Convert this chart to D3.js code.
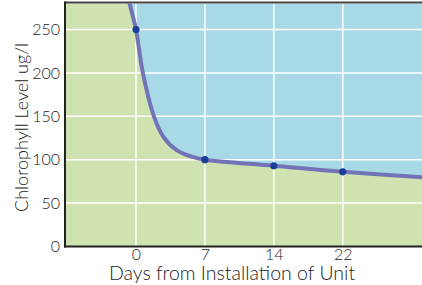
<!DOCTYPE html>
<html>
<head>
<meta charset="utf-8">
<script src="https://cdn.jsdelivr.net/npm/d3@7"></script>
<style>
  body { margin: 0; background: #fff; }
  text { font-family: Lato, "Open Sans", sans-serif; fill: #222; }
</style>
</head>
<body>
<div id="chart"></div>
<script>
const FRAME_WIDTH = 422;
const FRAME_HEIGHT = 285;
const MARGINS = { left: 65, right: 0, top: 3.5, bottom: 38.5 };

// x ticks are evenly spaced categories
const dayLabels = ["0", "7", "14", "22"];
const markerIdx = [0, 1, 2, 3];
const markerVals = [250, 100, 93, 86];

// curve (x in tick index units)
const curveIdx = [-0.2, -0.1, 0, 0.1, 0.26, 0.4, 0.59, 0.81, 1, 2, 3, 4.2];
const curveVals = [330, 283, 250, 200, 150, 126, 111, 103.5, 100, 93, 86, 79.5];

const yTicks = [0, 50, 100, 150, 200, 250];

let svg = d3.select("#chart").append("svg")
  .attr("width", FRAME_WIDTH)
  .attr("height", FRAME_HEIGHT);

let x = d3.scaleLinear().domain([-1.03, 4.15]).range([MARGINS.left, FRAME_WIDTH - MARGINS.right]);
let y = d3.scaleLinear().domain([0, 280]).range([FRAME_HEIGHT - MARGINS.bottom, MARGINS.top]);

let x0 = x.range()[0], x1 = x.range()[1];
let yb = y.range()[0], yt = y.range()[1];

svg.append("clipPath").attr("id", "plot-clip")
  .append("rect")
  .attr("x", x0).attr("y", yt)
  .attr("width", x1 - x0).attr("height", yb - yt);

let plot = svg.append("g").attr("clip-path", "url(#plot-clip)");

// blue background above the curve
plot.append("rect")
  .attr("x", x0).attr("y", yt)
  .attr("width", x1 - x0).attr("height", yb - yt)
  .attr("fill", "#a8d9e6");

let curveData = curveIdx.map((d, i) => [d, curveVals[i]]);
let line = d3.line()
  .x(d => x(d[0]))
  .y(d => y(d[1]))
  .curve(d3.curveCatmullRom.alpha(0.5));

// green area below / left of curve
plot.append("path")
  .attr("d", line(curveData) + "L" + (x1 + 10) + "," + (yb + 10) + "L" + (x0 - 10) + "," + (yb + 10) + "L" + (x0 - 10) + "," + (yt - 50) + "Z")
  .attr("fill", "#cfe3b0");

// grid
plot.selectAll(".hgrid")
  .data(yTicks.slice(1))
  .enter()
  .append("line")
  .attr("x1", x0).attr("x2", x1)
  .attr("y1", d => y(d)).attr("y2", d => y(d))
  .attr("stroke", "#fff")
  .attr("stroke-width", 1.5);

plot.selectAll(".vgrid")
  .data(markerIdx)
  .enter()
  .append("line")
  .attr("x1", d => x(d)).attr("x2", d => x(d))
  .attr("y1", yt).attr("y2", yb)
  .attr("stroke", "#fff")
  .attr("stroke-width", 1.5);

plot.append("path")
  .attr("d", line(curveData))
  .attr("fill", "none")
  .attr("stroke", "#7373b8")
  .attr("stroke-width", 4);

plot.selectAll("circle")
  .data(markerIdx)
  .enter()
  .append("circle")
  .attr("cx", d => x(d))
  .attr("cy", (d, i) => y(markerVals[i]))
  .attr("r", 3.6)
  .attr("fill", "#1b3f98");

// frame lines
svg.append("line")
  .attr("x1", x0).attr("x2", x1).attr("y1", yt - 1).attr("y2", yt - 1)
  .attr("stroke", "#444").attr("stroke-width", 2);
svg.append("line")
  .attr("x1", x0).attr("x2", x0).attr("y1", yt - 2).attr("y2", yb + 1)
  .attr("stroke", "#222").attr("stroke-width", 2);
svg.append("line")
  .attr("x1", x0 - 1).attr("x2", x1).attr("y1", yb).attr("y2", yb)
  .attr("stroke", "#222").attr("stroke-width", 2);

// axes (labels only)
let yAxis = svg.append("g")
  .attr("transform", "translate(" + (x0 - 1) + ",0)")
  .call(d3.axisLeft(y).tickValues(yTicks).tickSize(0).tickPadding(4));
yAxis.select(".domain").remove();
yAxis.selectAll("text").style("font-size", "16px").style("font-weight", 300).attr("fill", "#222");

let xAxis = svg.append("g")
  .attr("transform", "translate(0," + yb + ")")
  .call(d3.axisBottom(x).tickValues(markerIdx).tickFormat((d, i) => dayLabels[i]).tickSize(0).tickPadding(2));
xAxis.select(".domain").remove();
xAxis.selectAll("text").style("font-size", "16px").style("font-weight", 300).attr("fill", "#222");

svg.append("text")
  .attr("x", 232)
  .attr("y", 280)
  .attr("text-anchor", "middle")
  .style("font-size", "19.5px")
  .style("font-weight", 300)
  .text("Days from Installation of Unit");

svg.append("text")
  .attr("transform", "translate(28," + 127.5 + ") rotate(-90)")
  .attr("text-anchor", "middle")
  .style("font-size", "18px")
  .style("font-weight", 300)
  .text("Chlorophyll Level ug/l");
</script>
</body>
</html>
